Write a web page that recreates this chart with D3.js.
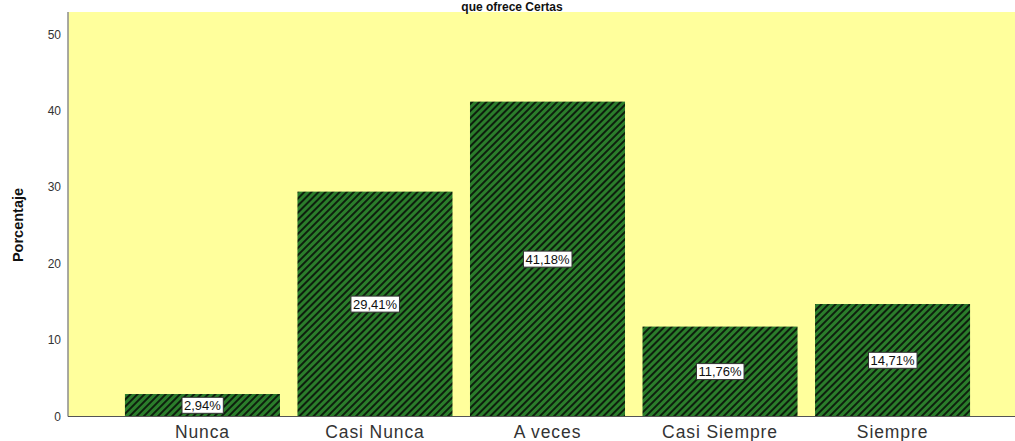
<!DOCTYPE html>
<html>
<head>
<meta charset="utf-8">
<script src="https://cdn.jsdelivr.net/npm/d3@7"></script>
<style>
  body { margin: 0; background: #fff; }
  svg { display: block; font-family: Arial, "Liberation Sans", sans-serif; }
</style>
</head>
<body>
<svg id="chart" width="1015" height="441"></svg>
<script>
// Response categories and percentage of respondents
const categories = ["Nunca", "Casi Nunca", "A veces", "Casi Siempre", "Siempre"];
const percentages = [2.94, 29.41, 41.18, 11.76, 14.71];
const valueLabels = ["2,94%", "29,41%", "41,18%", "11,76%", "14,71%"];
const yTicks = [0, 10, 20, 30, 40, 50];
const titleLine = "que ofrece Certas";
const yTitle = "Porcentaje";

const svg = d3.select("#chart");
const plot = { left: 68, right: 1027, top: 12, bottom: 416.5 };

const x = d3.scaleBand()
  .domain(categories)
  .range([plot.left, plot.right])
  .paddingInner(0.1014)
  .paddingOuter(0.33);

const y = d3.scaleLinear()
  .domain([0, 52.9])
  .range([plot.bottom, plot.top]);

// Hatched fill for the bars
const defs = svg.append("defs");
const pat = defs.append("pattern")
  .attr("id", "hatch")
  .attr("patternUnits", "userSpaceOnUse")
  .attr("width", 5).attr("height", 5)
  .attr("patternTransform", "rotate(45)");
pat.append("rect").attr("width", 5).attr("height", 5).attr("fill", "#2b7d2b");
pat.append("rect").attr("x", 0).attr("width", 2).attr("height", 5).attr("fill", "#0d1f0d");

// Plot background
svg.append("rect")
  .attr("x", plot.left).attr("y", plot.top)
  .attr("width", plot.right - plot.left).attr("height", plot.bottom - plot.top)
  .attr("fill", "#ffff9c");

// Bars
svg.append("g").selectAll("rect")
  .data(percentages)
  .join("rect")
  .attr("x", (d, i) => x(categories[i]))
  .attr("y", d => y(d))
  .attr("width", x.bandwidth())
  .attr("height", d => y(0) - y(d))
  .attr("fill", "url(#hatch)");

// Y axis
const yAxis = svg.append("g")
  .attr("transform", `translate(${plot.left},0)`)
  .call(d3.axisLeft(y).tickValues(yTicks).tickSize(0).tickPadding(7));
yAxis.select(".domain").attr("stroke", "#8c8c8c").attr("stroke-width", 1.5)
  .attr("d", `M0,${plot.top}V${plot.bottom}`);
yAxis.selectAll("text").attr("font-size", 12).attr("fill", "#333").attr("font-family", "Arial, 'Liberation Sans', sans-serif");

// X axis
const xAxis = svg.append("g")
  .attr("transform", `translate(0,${plot.bottom})`)
  .call(d3.axisBottom(x).tickSize(0).tickPadding(9));
xAxis.select(".domain").attr("stroke", "#555").attr("stroke-width", 1.2)
  .attr("d", `M${plot.left},0H${plot.right}`);
xAxis.selectAll("text").attr("font-size", 17.5).attr("fill", "#333")
  .attr("letter-spacing", 0.9)
  .attr("font-family", "Arial, 'Liberation Sans', sans-serif");

// Value labels at half bar height
const lbl = svg.append("g").selectAll("g")
  .data(percentages)
  .join("g")
  .attr("transform", (d, i) => `translate(${x(categories[i]) + x.bandwidth() / 2},${y(d / 2)})`);
lbl.append("text")
  .attr("text-anchor", "middle")
  .attr("dy", "0.35em")
  .attr("font-size", 13)
  .attr("fill", "#111")
  .text((d, i) => valueLabels[i])
  .each(function () {
    const b = this.getBBox();
    d3.select(this.parentNode).insert("rect", "text")
      .attr("x", b.x - 2).attr("y", b.y - 0.5)
      .attr("width", b.width + 4).attr("height", b.height + 1)
      .attr("fill", "#fff").attr("stroke", "#333").attr("stroke-width", 1);
  });

// Y title
svg.append("text")
  .attr("transform", "translate(23,225) rotate(-90)")
  .attr("text-anchor", "middle")
  .attr("font-size", 14.5).attr("font-weight", "bold").attr("fill", "#111")
  .text(yTitle);

// Chart title line above the plot
svg.append("text")
  .attr("x", 512).attr("y", 11)
  .attr("text-anchor", "middle")
  .attr("font-size", 12).attr("font-weight", "bold").attr("fill", "#111")
  .text(titleLine);
</script>
</body>
</html>
